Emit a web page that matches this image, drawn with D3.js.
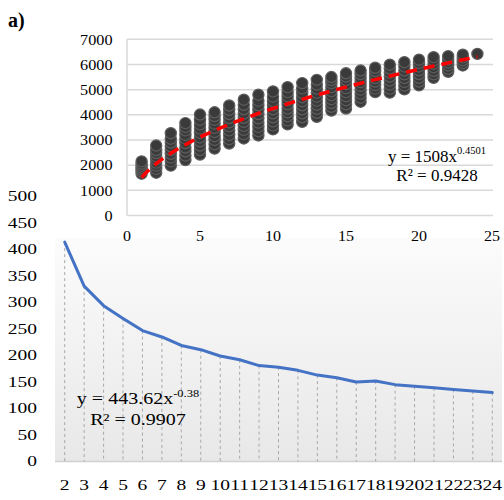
<!DOCTYPE html>
<html><head><meta charset="utf-8">
<script src="https://cdn.jsdelivr.net/npm/d3@7"></script>
<style>
html,body{margin:0;padding:0;background:#fff;}
svg text{font-family:"Liberation Serif","Times New Roman",serif;fill:#000;}
</style></head>
<body>
<svg id="c" width="504" height="500"></svg>
<script>
// ---------- data ----------
// bottom chart (line)
const categories = ["2","3","4","5","6","7","8","9","10","11","12","13","14","15","16","17","18","19","20","21","22","23","24"];
const lineValues = [414,331,294,270,247,235,219,211,199,192,181,178,172,163,158,150,152,145,142,139,136,133,130];
const bottomYTicks = [0,50,100,150,200,250,300,350,400,450,500];
// top chart (scatter)
const scatterX = [1,2,3,4,5,6,7,8,9,10,11,12,13,14,15,16,17,18,19,20,21,22,23,24];
const scatterY = [
  [1660,1750,1830,1900,1980,2060,2150],
  [1700,1850,1980,2100,2230,2350,2480,2600,2780],
  [1980,2150,2300,2450,2600,2750,2900,3050,3270],
  [2200,2380,2550,2700,2880,3050,3200,3380,3520,3670],
  [2420,2600,2780,2950,3100,3280,3450,3620,3800,4010],
  [2660,2830,3000,3150,3320,3480,3650,3800,3950,4100],
  [2860,3030,3200,3380,3550,3700,3870,4030,4200,4370],
  [3060,3230,3400,3560,3720,3880,4050,4220,4400,4600],
  [3180,3350,3520,3690,3860,4030,4200,4380,4560,4800],
  [3420,3580,3740,3900,4060,4220,4380,4540,4720,4930],
  [3620,3780,3940,4100,4250,4420,4580,4740,4900,5100],
  [3720,3900,4060,4220,4380,4540,4700,4870,5050,5260],
  [3920,4080,4240,4400,4560,4720,4880,5040,5200,5390],
  [4170,4320,4470,4620,4780,4940,5100,5260,5380,5500],
  [4250,4420,4580,4740,4900,5060,5220,5380,5520,5650],
  [4520,4680,4840,5000,5150,5300,5460,5620,5760],
  [4900,5040,5180,5320,5460,5600,5740,5870],
  [4880,5040,5200,5360,5520,5680,5840,5990],
  [5010,5160,5310,5460,5610,5760,5920,6090],
  [5170,5320,5470,5620,5770,5920,6060,6190],
  [5470,5610,5750,5890,6030,6160,6290],
  [5710,5830,5960,6080,6200,6330],
  [5960,6060,6170,6280,6390],
  [6420]
];
const topXTicks = [0,5,10,15,20,25];
const topYTicks = [0,1000,2000,3000,4000,5000,6000,7000];
const trendCoef = 1508, trendExp = 0.4501;
const topEq = {base:"y = 1508x", sup:"0.4501", r2:"R² = 0.9428"};
const botEq = {base:"y = 443.62x", sup:"-0.38", r2:"R² = 0.9907"};

// ---------- drawing ----------
const svg = d3.select("#c");
function txt(g, x, y, s, size, sx, anchor, weight){
  const t = g.append("text")
    .attr("transform", `translate(${x},${y}) scale(${sx},1)`)
    .attr("text-anchor", anchor||"start")
    .attr("dominant-baseline", "central")
    .style("font-size", size+"px")
    .text(s);
  if (weight) t.style("font-weight", weight);
  return t;
}

// bottom chart background
const bx = d3.scaleBand().domain(categories).range([55, 502]).paddingInner(0).paddingOuter(0);
const by = d3.scaleLinear().domain([0,500]).range([461.5,196.5]);
const defs = svg.append("defs");
const grad = defs.append("linearGradient").attr("id","bg").attr("x1",0).attr("y1",0).attr("x2",0).attr("y2",1);
grad.append("stop").attr("offset","0%").attr("stop-color","#ffffff");
grad.append("stop").attr("offset","100%").attr("stop-color","#e8e8e8");
const botG = svg.append("g");
botG.append("rect").attr("x",55).attr("y",by(500)).attr("width",502-55).attr("height",by(0)-by(500)).attr("fill","url(#bg)");
// inset white background
svg.append("rect").attr("x",45).attr("y",0).attr("width",459).attr("height",238).attr("fill","#fff");

const botM = svg.append("g");
botM.append("line").attr("x1",55).attr("x2",502).attr("y1",by(0)).attr("y2",by(0)).attr("stroke","#d0d0d0").attr("stroke-width",1.5);
const cx = c => bx(c) + bx.bandwidth()/2;
botM.selectAll("line.drop").data(categories).enter().append("line").attr("class","drop")
  .attr("x1",d=>cx(d)).attr("x2",d=>cx(d))
  .attr("y1",(d,i)=>by(lineValues[i])).attr("y2",by(0))
  .attr("stroke","#a8a8a8").attr("stroke-width",1).attr("stroke-dasharray","3,3");
botM.append("path").datum(lineValues)
  .attr("d", d3.line().x((d,i)=>cx(categories[i])).y(d=>by(d)))
  .attr("fill","none").attr("stroke","#4472c4").attr("stroke-width",3).attr("stroke-linejoin","round").attr("stroke-linecap","round");
bottomYTicks.forEach(v => txt(botM, 37, by(v), String(v), 15, 1.3, "end"));
categories.forEach(c => txt(botM, cx(c), 485, c, 15, 1.3, "middle"));
{
  const t = botM.append("text").attr("transform","translate(138,399) scale(1.25,1)")
    .attr("text-anchor","middle").attr("dominant-baseline","central").style("font-size","16px");
  t.append("tspan").text(botEq.base);
  t.append("tspan").attr("dy",-6).style("font-size","10px").text(botEq.sup);
  txt(botM, 138, 420, botEq.r2, 16, 1.25, "middle");
}

// top inset
const topG = svg.append("g");
const tx = d3.scaleLinear().domain([0,25]).range([127,492]);
const ty = d3.scaleLinear().domain([0,7000]).range([215.5,39.3]);
topYTicks.forEach(v => {
  topG.append("line").attr("x1",tx(0)).attr("x2",493).attr("y1",ty(v)).attr("y2",ty(v))
    .attr("stroke","#d9d9d9").attr("stroke-width",1.5);
  txt(topG, 112.5, ty(v), String(v), 15, 1.08, "end");
});
topG.append("line").attr("x1",tx(0)).attr("x2",tx(0)).attr("y1",ty(7000)).attr("y2",ty(0))
  .attr("stroke","#d9d9d9").attr("stroke-width",1.5);
topXTicks.forEach(v => txt(topG, tx(v), 236, String(v), 15, 1.07, "middle"));
const pts = [];
scatterX.forEach((x,i) => scatterY[i].forEach(y => pts.push([x,y])));
topG.selectAll("circle").data(pts).enter().append("circle")
  .attr("cx",d=>tx(d[0])).attr("cy",d=>ty(d[1])).attr("r",5.6)
  .attr("fill","#3a3a3a").attr("stroke","#5e5e5e").attr("stroke-width",1.2);
const trendX = d3.range(1, 24.01, 0.25);
topG.append("path").datum(trendX)
  .attr("d", d3.line().x(d=>tx(d)).y(d=>ty(trendCoef*Math.pow(d,trendExp))))
  .attr("fill","none").attr("stroke","#ff0000").attr("stroke-width",3.5).attr("stroke-dasharray","11,7");
{
  const t = topG.append("text").attr("transform","translate(437,156)")
    .attr("text-anchor","middle").attr("dominant-baseline","central").style("font-size","17px");
  t.append("tspan").text(topEq.base);
  t.append("tspan").attr("dy",-6).style("font-size","10.5px").text(topEq.sup);
  txt(topG, 437, 175.5, topEq.r2, 17, 1, "middle");
}
txt(topG, 8, 20, "a)", 20, 1, "start", "bold");
</script>
</body></html>
